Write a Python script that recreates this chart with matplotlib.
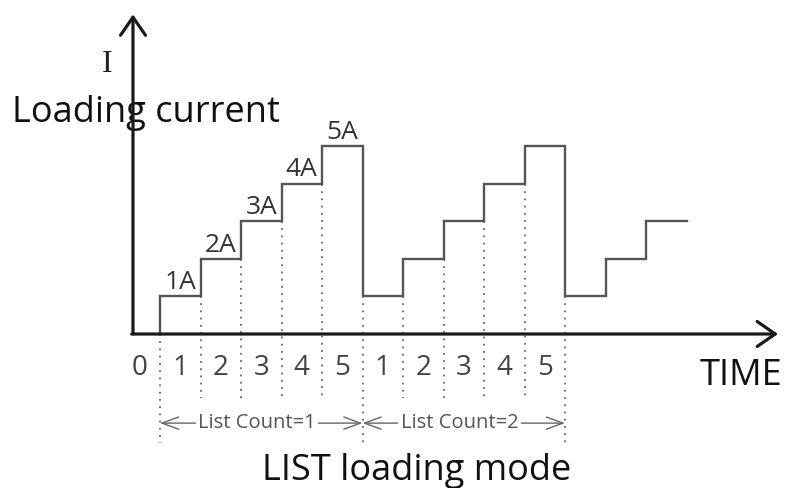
import numpy as np
import matplotlib.pyplot as plt

# ---- data ----
levels = [1, 2, 3, 4, 5, 1, 2, 3, 4, 5, 1, 2, 3]          # current (A) per step
edges = list(range(14))                                    # step boundaries (time units)
step_labels = ['1A', '2A', '3A', '4A', '5A']
period_labels = ['0', '1', '2', '3', '4', '5', '1', '2', '3', '4', '5']
list_counts = ['List Count=1', 'List Count=2']
list_spans = [(0, 5), (5, 10)]

plt.rcParams['font.family'] = ['Open Sans', 'DejaVu Sans']

fig = plt.figure(figsize=(7.86, 4.88), dpi=100)
ax = fig.add_axes([0, 0, 1, 1])
ax.set_xlim(-160 / 40.5, (786 - 160) / 40.5)
ax.set_ylim((334 - 488) / 37.6, 334 / 37.6)
ax.axis('off')

# axes with arrows
x0 = -0.667
ax.annotate('', xy=(x0, 8.5), xytext=(x0, 0), zorder=5,
            arrowprops=dict(arrowstyle='->,head_length=0.65,head_width=0.45',
                            lw=2.3, color='#1a1a1a', mutation_scale=20,
                            shrinkA=0, shrinkB=0))
ax.annotate('', xy=(15.26, 0), xytext=(x0 - 0.03, 0), zorder=5,
            arrowprops=dict(arrowstyle='->,head_length=0.65,head_width=0.45',
                            lw=2.3, color='#1a1a1a', mutation_scale=20,
                            shrinkA=0, shrinkB=0))

# step waveform
xs = [edges[0]]
ys = [0]
for i, lv in enumerate(levels):
    xs += [edges[i], edges[i + 1]]
    ys += [lv, lv]
ax.plot(xs, ys, color='#555555', lw=1.7, solid_joinstyle='miter', zorder=3)

# dotted guide lines
for k in range(11):
    top = 0 if k == 0 else min(levels[k - 1], levels[k])
    bottom = -2.9 if k % 5 == 0 else -1.7
    ax.plot([edges[k], edges[k]], [top, bottom], color='#666666', lw=1.3,
            linestyle=(0, (1, 3)), zorder=2)

# step current labels
for i, lab in enumerate(step_labels):
    ax.text(edges[i] + 0.5, levels[i] + 0.19, lab, ha='center', va='baseline',
            fontsize=19, color='#333333')

# period labels
for k, lab in enumerate(period_labels):
    xc = -0.5 if k == 0 else edges[k - 1] + 0.5
    ax.text(xc, -1.09, lab, ha='center', va='baseline', fontsize=20, color='#444444')

# list count spans
for (a, b), lab in zip(list_spans, list_counts):
    ax.annotate('', xy=(edges[a], -2.37), xytext=(edges[b], -2.37),
                arrowprops=dict(arrowstyle='<->,head_length=0.6,head_width=0.22',
                                lw=1.0, color='#666666', mutation_scale=20,
                                shrinkA=0, shrinkB=0))
    ax.text((edges[a] + edges[b]) / 2 - 0.1, -2.37, lab, ha='center', va='center',
            fontsize=14.5, color='#555555', zorder=4,
            bbox=dict(boxstyle='square,pad=0.12', fc='white', ec='none'))

# titles / axis names
ax.text(-1.31, 7.18, 'I', ha='center', va='center', fontsize=23,
        family='Liberation Serif', color='#222222')
ax.text(-3.65, 5.64, 'Loading current', ha='left', va='baseline', fontsize=26,
        color='#111111', zorder=1)
ax.text(13.33, -1.36, 'TIME', ha='left', va='baseline', fontsize=26, color='#111111')
ax.text(2.52, -3.88, 'LIST loading mode', ha='left', va='baseline', fontsize=26,
        color='#111111')

fig.savefig('out.png', dpi=100)
